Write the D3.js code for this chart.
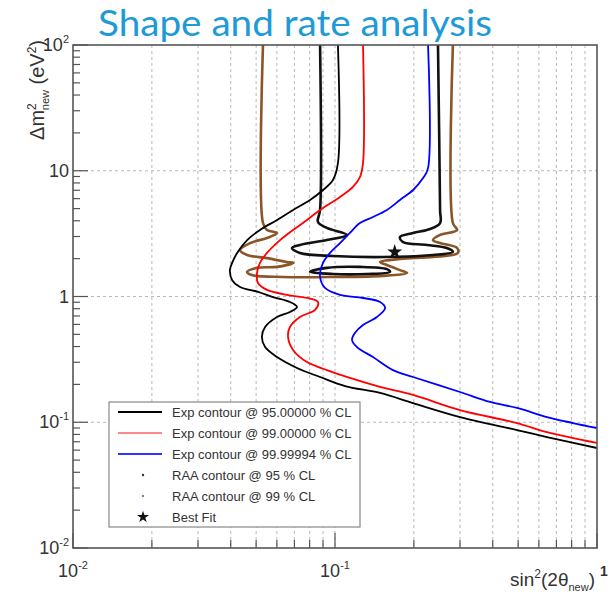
<!DOCTYPE html>
<html>
<head>
<meta charset="utf-8">
<script src="https://d3js.org/d3.v7.min.js"></script>
<style>
  body { margin: 0; background: #fff; }
  svg { display: block; }
</style>
</head>
<body>
<div id="chart"></div>
<script>
// contours: [sin^2(2theta), dm^2 (eV^2)]
const exp95 = [[0.1026,100],[0.1026,11.5],[0.0982,8.44],[0.0900,7.03],[0.0803,5.85],[0.0692,4.88],[0.0601,4.06],
  [0.0517,3.38],[0.0462,2.81],[0.0423,2.22],[0.0405,1.85],[0.0397,1.62],[0.0405,1.35],[0.0434,1.19],[0.0508,1.09],
  [0.0580,0.99],[0.0673,0.904],[0.0716,0.826],[0.0673,0.754],[0.0601,0.687],[0.0541,0.572],[0.0526,0.476],
  [0.0541,0.396],[0.0601,0.330],[0.0716,0.270],[0.0877,0.229],[0.1092,0.194],[0.1486,0.171],[0.1986,0.142],
  [0.300,0.110],[0.495,0.0867],[0.644,0.0763],[1.0,0.0624]];
const exp99 = [[0.1279,100],[0.1279,11.5],[0.1245,8.9],[0.1171,7.43],[0.1045,6.18],[0.0877,4.88],[0.0782,4.06],
  [0.0692,3.38],[0.0617,2.81],[0.0550,2.22],[0.0517,1.85],[0.0504,1.54],[0.0508,1.28],[0.0550,1.13],[0.0656,1.03],
  [0.0782,0.973],[0.0861,0.904],[0.0839,0.782],[0.0735,0.687],[0.0673,0.572],[0.0662,0.476],[0.0692,0.376],
  [0.0782,0.301],[0.0931,0.260],[0.114,0.225],[0.1486,0.191],[0.1986,0.165],[0.300,0.125],[0.495,0.0986],
  [0.644,0.0835],[1.0,0.0684]];
const exp5s = [[0.2265,100],[0.2265,10.5],[0.2168,8.75],[0.1986,7.03],[0.1770,5.85],[0.1578,4.88],[0.1396,4.29],
  [0.1245,3.84],[0.1140,3.20],[0.1045,2.66],[0.0957,2.22],[0.0900,1.85],[0.0877,1.43],[0.0916,1.17],[0.1045,1.03],
  [0.1279,0.973],[0.1486,0.904],[0.1553,0.811],[0.1445,0.687],[0.1279,0.593],[0.1191,0.513],[0.1161,0.451],
  [0.1213,0.396],[0.1396,0.330],[0.1664,0.260],[0.1986,0.229],[0.300,0.174],[0.391,0.145],[0.495,0.130],
  [0.644,0.110],[0.809,0.0986],[1.0,0.0900]];
const raa95 = [[0.0877,100],[0.0877,4.88],[0.0861,3.91],[0.0931,3.51],[0.1111,3.09],[0.0931,2.81],[0.0735,2.57],
  [0.0685,2.43],[0.0735,2.22],[0.0982,2.10],[0.1525,2.06],[0.2366,2.14],[0.2818,2.26],[0.2673,2.43],[0.2244,2.57],
  [0.1819,2.71],[0.1770,2.97],[0.1986,3.20],[0.2306,3.44],[0.2518,3.84],[0.2518,4.88],[0.2472,100]];
const raa95Island = [[0.0803,1.57],[0.0931,1.69],[0.1245,1.72],[0.1578,1.65],[0.1622,1.57],[0.1324,1.51],[0.0982,1.51]];
const raa99 = [[0.0531,100],[0.0531,3.84],[0.0550,3.38],[0.0601,3.20],[0.0550,2.92],[0.0474,2.66],[0.0434,2.34],
  [0.0462,2.14],[0.0550,2.02],[0.0656,1.88],[0.0692,1.85],[0.0601,1.72],[0.0504,1.69],[0.0462,1.57],[0.0482,1.48],
  [0.0634,1.43],[0.0982,1.43],[0.1525,1.46],[0.1884,1.54],[0.1770,1.62],[0.1578,1.78],[0.1486,1.88],[0.1770,1.99],
  [0.2366,2.06],[0.2945,2.22],[0.2924,2.43],[0.2518,2.66],[0.2366,2.81],[0.2518,3.09],[0.2924,3.38],[0.2818,3.84],
  [0.2818,100]];
const bestFit = [0.169, 2.26];

const legendLabels = ["Exp contour @ 95.00000 % CL", "Exp contour @ 99.00000 % CL", "Exp contour @ 99.99994 % CL",
  "RAA contour @ 95 % CL", "RAA contour @ 99 % CL", "Best Fit"];
const xMajor = [0.01, 0.1, 1];
const xLabels = [["10", "-2"], ["10", "-1"], ["1", ""]];
const yMajor = [0.01, 0.1, 1, 10, 100];
const yLabels = [["10", "-2"], ["10", "-1"], ["1", ""], ["10", ""], ["10", "2"]];

class ContourChart {
  constructor(config) {
    this.config = {
      parent: config.parent,
      width: config.width || 616,
      height: config.height || 599,
      margin: config.margin || {top: 45, right: 19, bottom: 51, left: 73}
    };
    this.init();
  }

  init() {
    const c = this.config;
    this.w = c.width - c.margin.left - c.margin.right;
    this.h = c.height - c.margin.top - c.margin.bottom;

    this.svg = d3.select(c.parent).append("svg")
      .attr("width", c.width)
      .attr("height", c.height)
      .style("font-family", "'Liberation Sans', Arial, sans-serif");

    this.chart = this.svg.append("g")
      .attr("transform", `translate(${c.margin.left}, ${c.margin.top})`);

    this.xscale = d3.scaleLog().domain([0.01, 1]).range([0, this.w]);
    this.yscale = d3.scaleLog().domain([0.01, 100]).range([this.h, 0]);

    this.chart.append("clipPath").attr("id", "frame")
      .append("rect").attr("width", this.w).attr("height", this.h);
  }

  render() {
    const chart = this.chart, x = this.xscale, y = this.yscale;
    const xTicks = x.ticks(), yTicks = y.ticks();
    const isMajor = v => Math.abs(Math.log10(v) - Math.round(Math.log10(v))) < 1e-6;

    // grid
    chart.append("g").selectAll("line")
      .data(xTicks.filter(v => v > 0.01 && v < 1))
      .join("line")
      .attr("x1", d => x(d)).attr("x2", d => x(d))
      .attr("y1", 0).attr("y2", this.h)
      .attr("stroke", "#b8b8b8").attr("stroke-dasharray", "3,3");
    chart.append("g").selectAll("line")
      .data(yMajor.filter(v => v > 0.01 && v < 100))
      .join("line")
      .attr("y1", d => y(d)).attr("y2", d => y(d))
      .attr("x1", 0).attr("x2", this.w)
      .attr("stroke", "#b8b8b8").attr("stroke-dasharray", "3,3");

    // ticks pointing inwards, ROOT style
    const axisG = chart.append("g").attr("stroke", "#555").attr("stroke-width", 1.2);
    axisG.selectAll(".yt").data(yTicks).join("line")
      .attr("x1", 0).attr("x2", d => isMajor(d) ? 15 : 7)
      .attr("y1", d => y(d)).attr("y2", d => y(d));
    axisG.selectAll(".xt").data(xTicks).join("line")
      .attr("y1", this.h).attr("y2", d => this.h - (isMajor(d) ? 15 : 8))
      .attr("x1", d => x(d)).attr("x2", d => x(d));

    // contours
    const line = d3.line().x(d => x(d[0])).y(d => y(d[1])).curve(d3.curveCatmullRom.alpha(0.5));
    const loop = d3.line().x(d => x(d[0])).y(d => y(d[1])).curve(d3.curveCatmullRomClosed.alpha(0.5));
    const curves = chart.append("g").attr("clip-path", "url(#frame)").attr("fill", "none");
    curves.append("path").attr("d", line(raa99)).attr("stroke", "#8a5527").attr("stroke-width", 2.6);
    curves.append("path").attr("d", line(raa95)).attr("stroke", "#111").attr("stroke-width", 2.6);
    curves.append("path").attr("d", loop(raa95Island)).attr("stroke", "#111").attr("stroke-width", 2.6);
    curves.append("path").attr("d", line(exp95)).attr("stroke", "#000").attr("stroke-width", 1.8);
    curves.append("path").attr("d", line(exp99)).attr("stroke", "#ff0000").attr("stroke-width", 1.8);
    curves.append("path").attr("d", line(exp5s)).attr("stroke", "#0000ff").attr("stroke-width", 1.8);

    chart.append("path")
      .attr("transform", `translate(${x(bestFit[0])}, ${y(bestFit[1])})`)
      .attr("d", d3.symbol(d3.symbolStar, 70)())
      .attr("fill", "#111");

    // frame
    chart.append("rect").attr("width", this.w).attr("height", this.h)
      .attr("fill", "none").attr("stroke", "#555").attr("stroke-width", 1.6);

    this.renderLabels();
    this.renderLegend();
  }

  renderLabels() {
    const chart = this.chart, x = this.xscale, y = this.yscale;
    const lab = (g, parts) => {
      g.append("tspan").text(parts[0]);
      if (parts[1]) g.append("tspan").attr("font-size", 11).attr("dy", -8).text(parts[1]);
    };
    yMajor.forEach((v, i) => {
      const t = chart.append("text").attr("x", -4).attr("y", y(v) + 6)
        .attr("text-anchor", "end").attr("font-size", 18).attr("fill", "#333");
      lab(t, yLabels[i]);
    });
    xMajor.forEach((v, i) => {
      if (v === 1) return;
      const t = chart.append("text").attr("x", x(v)).attr("y", this.h + 29)
        .attr("text-anchor", "middle").attr("font-size", 18).attr("fill", "#333");
      lab(t, xLabels[i]);
    });
    chart.append("text").attr("x", this.w + 3).attr("y", this.h + 28)
      .attr("font-size", 14).attr("font-weight", "bold").attr("fill", "#333").text(xLabels[2][0]);

    // axis titles
    const xt = chart.append("text").attr("x", this.w - 2).attr("y", this.h + 38)
      .attr("text-anchor", "end").attr("font-size", 19).attr("fill", "#333");
    xt.append("tspan").text("sin");
    xt.append("tspan").attr("font-size", 12).attr("dy", -8).text("2");
    xt.append("tspan").attr("dy", 8).text("(2θ");
    xt.append("tspan").attr("font-size", 11).attr("dy", 5).text("new");
    xt.append("tspan").attr("dy", -5).text(")");

    const yt = chart.append("text")
      .attr("transform", "rotate(-90)")
      .attr("x", 5).attr("y", -29)
      .attr("text-anchor", "end").attr("font-size", 20).attr("fill", "#333");
    yt.append("tspan").text("Δm");
    yt.append("tspan").attr("font-size", 12).attr("dy", -8).text("2");
    yt.append("tspan").attr("font-size", 11).attr("dx", -7).attr("dy", 13).text("new");
    yt.append("tspan").attr("dy", -5).text(" (eV");
    yt.append("tspan").attr("font-size", 12).attr("dy", -8).text("2");
    yt.append("tspan").attr("dy", 8).text(")");

    this.svg.append("text")
      .attr("x", 98).attr("y", 36)
      .attr("font-family", "Lato, 'Open Sans', sans-serif")
      .attr("font-size", 36).attr("fill", "#1f9ad8")
      .attr("textLength", 394).attr("lengthAdjust", "spacingAndGlyphs")
      .text("Shape and rate analysis");
  }

  renderLegend() {
    const lg = this.svg.append("g").attr("transform", "translate(109, 402)");
    lg.append("rect").attr("width", 251).attr("height", 125)
      .attr("fill", "#fff").attr("stroke", "#888").attr("stroke-width", 1.2);
    const kinds = [
      {type: "line", color: "#000"}, {type: "line", color: "#ff8888"}, {type: "line", color: "#3333ff"},
      {type: "dot", color: "#333"}, {type: "dot", color: "#b07a4a"}, {type: "star", color: "#111"}
    ];
    const rows = lg.selectAll("g.row").data(legendLabels).join("g")
      .attr("transform", (d, i) => `translate(0, ${10 + i * 21})`);
    rows.each(function(d, i) {
      const g = d3.select(this), k = kinds[i];
      if (k.type === "line") g.append("line").attr("x1", 9).attr("x2", 53).attr("stroke", k.color).attr("stroke-width", 2);
      if (k.type === "dot") g.append("circle").attr("cx", 34).attr("r", 1.2).attr("fill", k.color);
      if (k.type === "star") g.append("path").attr("transform", "translate(34,0)")
        .attr("d", d3.symbol(d3.symbolStar, 45)()).attr("fill", k.color);
    });
    rows.append("text").attr("x", 63).attr("y", 4.5).attr("font-size", 13).attr("fill", "#333").text(d => d);
  }
}

const chart = new ContourChart({parent: "#chart"});
chart.render();
</script>
</body>
</html>
